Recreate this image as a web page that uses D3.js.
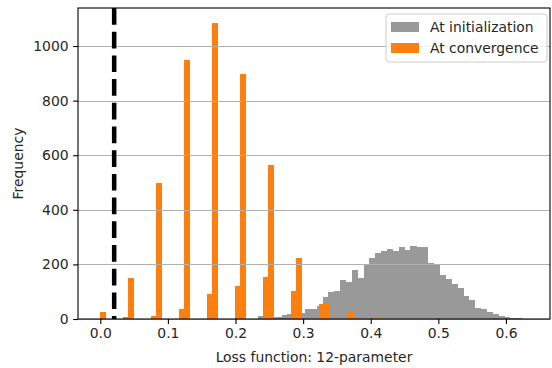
<!DOCTYPE html>
<html>
<head>
<meta charset="utf-8">
<script src="https://cdn.jsdelivr.net/npm/d3@7"></script>
<style>
  html, body { margin: 0; padding: 0; background: #fff; }
  text { font-family: "DejaVu Sans", sans-serif; }
</style>
</head>
<body>
<svg id="chart" width="552" height="368"></svg>
<script>
// ---- data ----
const orangeStart = 0.0;
const orangeBinWidth = 0.008284;
const orangeCounts = [27,0,0,0,6,149,0,0,0,12,499,0,0,0,38,949,0,0,0,91,1085,0,0,0,122,898,0,0,0,154,563,0,0,0,102,223,0,0,0,54,54,0,0,0,28,6,0,0,0,5];

const grayStart = 0.2334;
const grayBinWidth = 0.008669;
const grayCounts = [11,5,6,8,15,19,21,22,38,38,48,79,99,103,143,137,180,152,198,225,241,249,257,249,262,251,268,262,262,205,200,163,145,127,114,84,70,39,36,27,18,12,6,5,5];

const xTicks = [0.0, 0.1, 0.2, 0.3, 0.4, 0.5, 0.6];
const yTicks = [0, 200, 400, 600, 800, 1000];
const threshold = 0.0205;
const seriesNames = ["At initialization", "At convergence"];
const xLabel = "Loss function: 12-parameter";
const yLabel = "Frequency";

// ---- layout ----
const L = 78, R = 550, T = 8, B = 319;
const svg = d3.select("#chart");
const x = d3.scaleLinear().domain([-0.033, 0.6652]).range([L, R]);
const y = d3.scaleLinear().domain([0, 1139.3]).range([B, T]);

const grayColor = "#999999";
const orangeColor = "#ff7f0e";

function bins(start, w, counts) {
  return counts.map((c, i) => ({x0: start + i * w, x1: start + (i + 1) * w, c})).filter(d => d.c > 0);
}

// gray histogram
svg.append("g").attr("shape-rendering", "crispEdges").selectAll("rect").data(bins(grayStart, grayBinWidth, grayCounts)).join("rect")
  .attr("x", d => x(d.x0)).attr("width", d => x(d.x1) - x(d.x0) + 0.3)
  .attr("y", d => y(d.c)).attr("height", d => y(0) - y(d.c))
  .attr("fill", grayColor);

// orange histogram
svg.append("g").attr("shape-rendering", "crispEdges").selectAll("rect").data(bins(orangeStart, orangeBinWidth, orangeCounts)).join("rect")
  .attr("x", d => x(d.x0)).attr("width", d => x(d.x1) - x(d.x0) + 0.3)
  .attr("y", d => y(d.c)).attr("height", d => y(0) - y(d.c))
  .attr("fill", orangeColor);

// grid lines (above patches, like matplotlib defaults)
svg.append("g").selectAll("line").data(yTicks).join("line")
  .attr("x1", L).attr("x2", R)
  .attr("y1", d => Math.round(y(d)) + 0.5).attr("y2", d => Math.round(y(d)) + 0.5)
  .attr("stroke", "#b0b0b0").attr("stroke-width", 1.1);

// dashed threshold line
svg.append("line")
  .attr("x1", x(threshold)).attr("x2", x(threshold))
  .attr("y1", T).attr("y2", B)
  .attr("stroke", "#000").attr("stroke-width", 4.5)
  .attr("stroke-dasharray", "16.7,7");

// axes
const xAxis = d3.axisBottom(x).tickValues(xTicks).tickFormat(d3.format(".1f")).tickSizeOuter(0).tickSize(4.9).tickPadding(4.5);
const yAxis = d3.axisLeft(y).tickValues(yTicks).tickFormat(d3.format("d")).tickSizeOuter(0).tickSize(4.9).tickPadding(4.5);

const gx = svg.append("g").attr("transform", `translate(0,${B})`).call(xAxis);
const gy = svg.append("g").attr("transform", `translate(${L},0)`).call(yAxis);
[gx, gy].forEach(g => {
  g.select(".domain").remove();
  g.selectAll(".tick line").attr("stroke", "#000").attr("stroke-width", 1.1);
  g.selectAll(".tick text").attr("fill", "#262626").style("font-size", "13.9px").style("font-family", "DejaVu Sans, sans-serif");
});

// frame
svg.append("rect").attr("x", L).attr("y", T).attr("width", R - L).attr("height", B - T)
  .attr("fill", "none").attr("stroke", "#000").attr("stroke-width", 1.1);

// axis labels
svg.append("text").attr("x", (L + R) / 2).attr("y", 362).attr("text-anchor", "middle")
  .style("font-size", "13.9px").attr("fill", "#262626").text(xLabel);
svg.append("text").attr("transform", `translate(23,${(T + B) / 2}) rotate(-90)`).attr("text-anchor", "middle")
  .style("font-size", "13.9px").attr("fill", "#262626").text(yLabel);

// legend
const lg = svg.append("g");
lg.append("rect").attr("x", 386).attr("y", 14).attr("width", 161).attr("height", 48).attr("rx", 3)
  .attr("fill", "#fff").attr("fill-opacity", 0.8).attr("stroke", "#cccccc").attr("stroke-width", 1);
const legendColors = [grayColor, orangeColor];
seriesNames.forEach((name, i) => {
  const cy = 27 + i * 21;
  lg.append("rect").attr("x", 391).attr("y", cy - 5).attr("width", 28).attr("height", 10).attr("fill", legendColors[i]);
  lg.append("text").attr("x", 430).attr("y", cy).attr("dy", "0.35em")
    .style("font-size", "13.9px").attr("fill", "#262626").text(name);
});
</script>
</body>
</html>
